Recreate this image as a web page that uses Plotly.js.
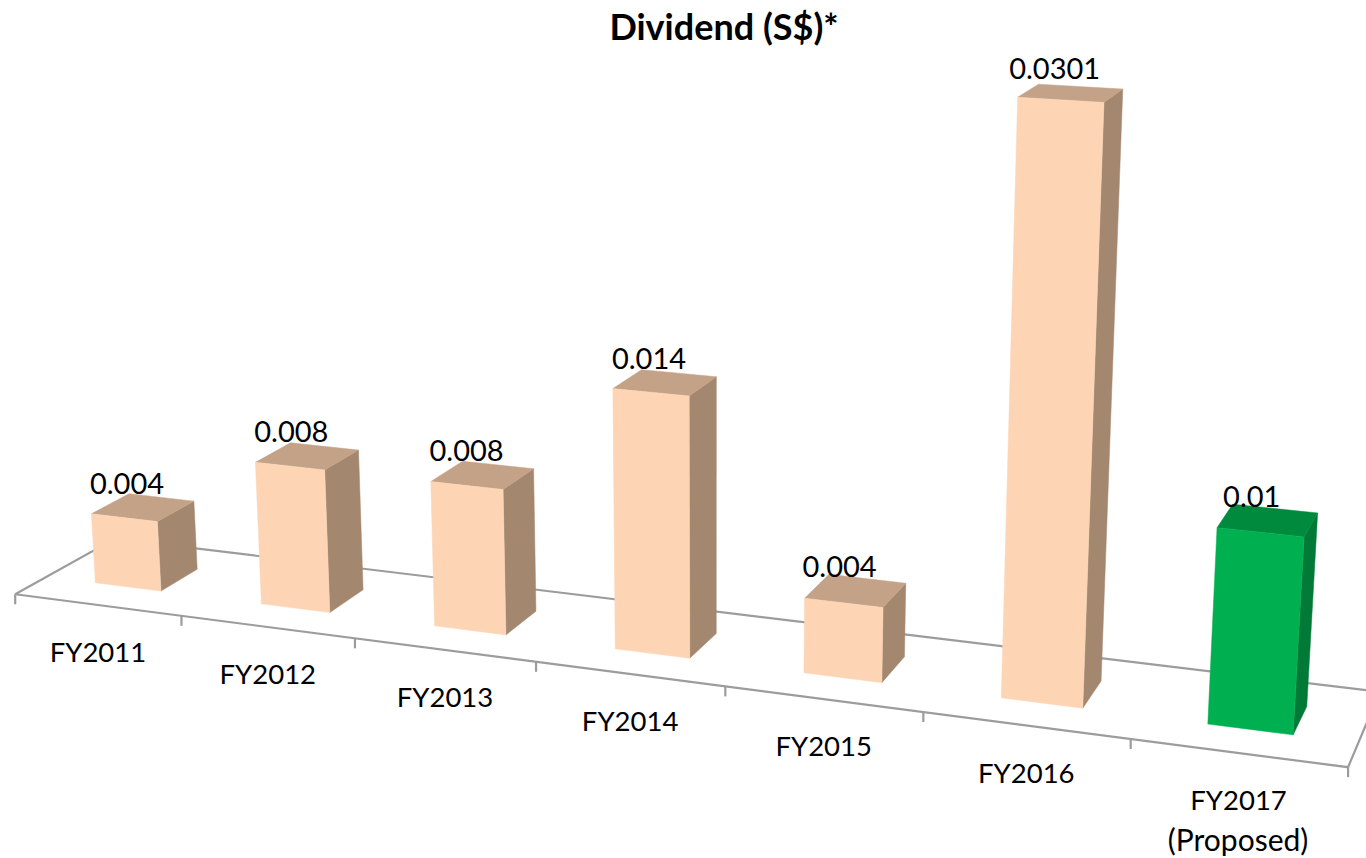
<!DOCTYPE html>
<html><head><meta charset="utf-8"><script src="https://cdn.plot.ly/plotly-3.0.1.min.js"></script>
<style>html,body{margin:0;background:#fff}#c{width:1366px;height:858px}</style></head><body><div id="c"></div>
<script>
const categories=['FY2011','FY2012','FY2013','FY2014','FY2015','FY2016','FY2017'];
const categoryNotes=['','','','','','','(Proposed)'];
const dividends=[0.004,0.008,0.008,0.014,0.004,0.0301,0.01];
const valueLabels=['0.004','0.008','0.008','0.014','0.004','0.0301','0.01'];
const frontColors=['#FDD5B4','#FDD5B4','#FDD5B4','#FDD5B4','#FDD5B4','#FDD5B4','#00B050'];
const topColors=['#C3A288','#C3A288','#C3A288','#C3A288','#C3A288','#C3A288','#008A3E'];
const sideColors=['#A4876F','#A4876F','#A4876F','#A4876F','#A4876F','#A4876F','#007A36'];

// perspective camera that maps (category slot, value, depth) to the page plane
const camera=[159.7315,-11.35252,39.94714,46.88128,8.686356,-179.5716,-9.236561,576.6134,-0.02032180,-0.01592408,0.02156860];
const halfWidth=0.2, floorFront=-0.8, floorBack=1.82;
function project(slot,value,depth){
  const Y=value*100,m=camera,w=m[8]*slot+m[9]*Y+m[10]*depth+1;
  return [(m[0]*slot+m[1]*Y+m[2]*depth+m[3])/w,(m[4]*slot+m[5]*Y+m[6]*depth+m[7])/w];
}
function polyline(points,style){
  return Object.assign({type:'scatter',x:points.map(p=>p[0]),y:points.map(p=>p[1]),hoverinfo:'skip',showlegend:false},style);
}
const traces=[];
const axisLine={mode:'lines',line:{color:'#9C9C9C',width:2.2}};
// floor outline and category ticks
traces.push(polyline([project(0,0,floorFront),project(0,0,floorBack),project(7,0,floorBack),project(7,0,floorFront),project(0,0,floorFront)],axisLine));
for(let k=0;k<=categories.length;k++){
  const a=project(k,0,floorFront);
  traces.push(polyline([a,[a[0],a[1]+10]],axisLine));
}
// bars
dividends.forEach((v,i)=>{
  const l=i+.5-halfWidth,r=i+.5+halfWidth;
  const face=(pts,col)=>traces.push(polyline(pts.concat([pts[0]]),{mode:'lines',fill:'toself',fillcolor:col,line:{color:col,width:0.5}}));
  face([project(r,0,0),project(r,0,1),project(r,v,1),project(r,v,0)],sideColors[i]);
  face([project(l,v,0),project(r,v,0),project(r,v,1),project(l,v,1)],topColors[i]);
  face([project(l,0,0),project(r,0,0),project(r,v,0),project(l,v,0)],frontColors[i]);
});
// data labels
const labelPts=dividends.map((v,i)=>project(i+.5,v,.5));
traces.push({type:'scatter',mode:'text',x:labelPts.map(p=>p[0]-16),y:labelPts.map(p=>p[1]-21),text:valueLabels,
  textposition:'middle center',textfont:{family:'Lato, sans-serif',size:29,color:'#000'},hoverinfo:'skip',showlegend:false,cliponaxis:false});
// category labels
const catPts=categories.map((c,i)=>project(i+.5,0,floorFront));
traces.push({type:'scatter',mode:'text',x:catPts.map(p=>p[0]+0.5),y:catPts.map(p=>p[1]+50.5),text:categories,
  textposition:'middle center',textfont:{family:'Lato, sans-serif',size:27.5,color:'#000'},hoverinfo:'skip',showlegend:false,cliponaxis:false});
traces.push({type:'scatter',mode:'text',x:catPts.map(p=>p[0]),y:catPts.map(p=>p[1]+91),text:categoryNotes,
  textposition:'middle center',textfont:{family:'Lato, sans-serif',size:30,color:'#000'},hoverinfo:'skip',showlegend:false,cliponaxis:false});
Plotly.newPlot('c',traces,{
  width:1366,height:858,margin:{l:0,r:0,t:0,b:0},paper_bgcolor:'#fff',plot_bgcolor:'#fff',showlegend:false,
  title:{text:'<b>Dividend (S$)*</b>',x:724/1366,xanchor:'center',y:1-27/858,yanchor:'middle',font:{family:'Lato, sans-serif',size:36,color:'#000'}},
  xaxis:{visible:false,range:[0,1366],fixedrange:true},
  yaxis:{visible:false,range:[858,0],fixedrange:true}
},{displayModeBar:false,staticPlot:true});
</script></body></html>
